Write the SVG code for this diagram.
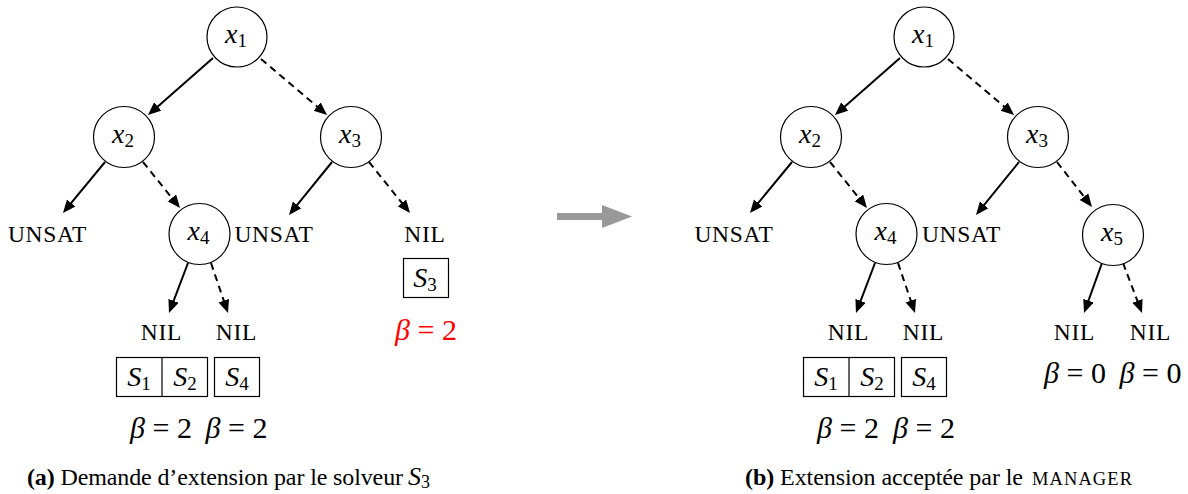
<svg xmlns="http://www.w3.org/2000/svg" width="1188" height="494" viewBox="0 0 1188 494">
<style>
text{font-family:"Liberation Serif","Times New Roman",serif;fill:#000}
.nd{fill:#fff;stroke:#000;stroke-width:1.2}
.lbl{font-size:28px;text-anchor:middle}
.mi{font-style:italic}
.sub{font-style:normal;font-size:19px}
.term{font-size:23.5px;text-anchor:middle;letter-spacing:0.7px}
.box{fill:#fff;stroke:#000;stroke-width:1.2}
.beta{font-size:30px}
.e{stroke:#000;stroke-width:2;fill:none;marker-end:url(#ah)}
.d{stroke-dasharray:7 5}
.cap{font-size:24px}
</style>
<defs>
<marker id="ah" markerUnits="userSpaceOnUse" markerWidth="14" markerHeight="12" refX="9" refY="5.5" orient="auto">
<path d="M0,0 L13,5.5 L0,11 z" fill="#000"/>
</marker>
</defs>
<g id="connectors">
<line class="e" x1="213" y1="58" x2="151" y2="112.4"/>
<line class="e d" x1="261" y1="59" x2="324" y2="112.4"/>
<line class="e" x1="105" y1="162" x2="65.5" y2="209.9"/>
<line class="e d" x1="143" y1="162" x2="177.5" y2="204.9"/>
<line class="e" x1="332" y1="162" x2="291.5" y2="211.9"/>
<line class="e d" x1="369" y1="162" x2="407.5" y2="209.9"/>
<line class="e" x1="188" y1="263" x2="170.4" y2="309.3"/>
<line class="e d" x1="211" y1="263" x2="226.7" y2="309.2"/>
<line class="e" x1="900" y1="58" x2="838" y2="112.4"/>
<line class="e d" x1="948" y1="59" x2="1011" y2="112.4"/>
<line class="e" x1="792" y1="162" x2="752.5" y2="209.9"/>
<line class="e d" x1="830" y1="162" x2="864.5" y2="204.9"/>
<line class="e" x1="1019" y1="162" x2="978.5" y2="211.9"/>
<line class="e d" x1="1057" y1="162" x2="1089.5" y2="203.8"/>
<line class="e" x1="875" y1="263" x2="857.4" y2="309.3"/>
<line class="e d" x1="898" y1="263" x2="913.7" y2="309.2"/>
<line class="e" x1="1102" y1="263" x2="1085.4" y2="309.2"/>
<line class="e d" x1="1123" y1="263" x2="1140.6" y2="309.3"/>
<polygon id="transition" points="557,213 602,213 602,205 632,216.5 602,228 602,220 557,220" fill="#999"/>
</g>
<g id="a-x1"><circle class="nd" cx="237" cy="37" r="30"/><text class="lbl" x="236" y="43"><tspan class="mi">x</tspan><tspan class="sub" dy="4">1</tspan></text></g>
<g id="a-x2"><circle class="nd" cx="124" cy="137" r="30.5"/><text class="lbl" x="123" y="143"><tspan class="mi">x</tspan><tspan class="sub" dy="4">2</tspan></text></g>
<g id="a-x3"><circle class="nd" cx="351" cy="137" r="30.5"/><text class="lbl" x="350" y="143"><tspan class="mi">x</tspan><tspan class="sub" dy="4">3</tspan></text></g>
<g id="a-x4"><circle class="nd" cx="199.5" cy="234" r="30.5"/><text class="lbl" x="198.5" y="240"><tspan class="mi">x</tspan><tspan class="sub" dy="4">4</tspan></text></g>
<g id="a-unsat1"><text class="term" x="47.5" y="242">UNSAT</text></g>
<g id="a-unsat2"><text class="term" x="274" y="242">UNSAT</text></g>
<g id="a-nil3"><text class="term" x="425" y="242">NIL</text>
<rect class="box" x="403.5" y="258.5" width="45" height="39"/>
<text class="lbl" x="425" y="287"><tspan class="mi">S</tspan><tspan class="sub" dy="4">3</tspan></text>
<text class="beta" x="426" y="340" text-anchor="middle" style="fill:#f00"><tspan class="mi">β</tspan> = 2</text></g>
<g id="a-nil1"><text class="term" x="161.5" y="340">NIL</text>
<rect class="box" x="116.5" y="357.5" width="91" height="39"/>
<line x1="162" y1="357.5" x2="162" y2="396.5" stroke="#000" stroke-width="1.2"/>
<text class="lbl" x="139" y="386"><tspan class="mi">S</tspan><tspan class="sub" dy="4">1</tspan></text>
<text class="lbl" x="185" y="386"><tspan class="mi">S</tspan><tspan class="sub" dy="4">2</tspan></text>
<text class="beta" x="161" y="438" text-anchor="middle"><tspan class="mi">β</tspan> = 2</text></g>
<g id="a-nil2"><text class="term" x="236.5" y="340">NIL</text>
<rect class="box" x="214.5" y="357.5" width="45" height="39"/>
<text class="lbl" x="237" y="386"><tspan class="mi">S</tspan><tspan class="sub" dy="4">4</tspan></text>
<text class="beta" x="236.5" y="438" text-anchor="middle"><tspan class="mi">β</tspan> = 2</text></g>
<g id="b-x1"><circle class="nd" cx="924" cy="37" r="30"/><text class="lbl" x="923" y="43"><tspan class="mi">x</tspan><tspan class="sub" dy="4">1</tspan></text></g>
<g id="b-x2"><circle class="nd" cx="811" cy="137" r="30.5"/><text class="lbl" x="810" y="143"><tspan class="mi">x</tspan><tspan class="sub" dy="4">2</tspan></text></g>
<g id="b-x3"><circle class="nd" cx="1038" cy="137" r="30.5"/><text class="lbl" x="1037" y="143"><tspan class="mi">x</tspan><tspan class="sub" dy="4">3</tspan></text></g>
<g id="b-x4"><circle class="nd" cx="886.5" cy="234" r="30.5"/><text class="lbl" x="885.5" y="240"><tspan class="mi">x</tspan><tspan class="sub" dy="4">4</tspan></text></g>
<g id="b-x5"><circle class="nd" cx="1113" cy="235" r="30.5"/><text class="lbl" x="1112" y="241"><tspan class="mi">x</tspan><tspan class="sub" dy="4">5</tspan></text></g>
<g id="b-unsat1"><text class="term" x="734" y="242">UNSAT</text></g>
<g id="b-unsat2"><text class="term" x="961.5" y="242">UNSAT</text></g>
<g id="b-nil1"><text class="term" x="848.5" y="340">NIL</text>
<rect class="box" x="803.5" y="357.5" width="91" height="39"/>
<line x1="849" y1="357.5" x2="849" y2="396.5" stroke="#000" stroke-width="1.2"/>
<text class="lbl" x="826" y="386"><tspan class="mi">S</tspan><tspan class="sub" dy="4">1</tspan></text>
<text class="lbl" x="872" y="386"><tspan class="mi">S</tspan><tspan class="sub" dy="4">2</tspan></text>
<text class="beta" x="848" y="438" text-anchor="middle"><tspan class="mi">β</tspan> = 2</text></g>
<g id="b-nil2"><text class="term" x="923.5" y="340">NIL</text>
<rect class="box" x="901.5" y="357.5" width="45" height="39"/>
<text class="lbl" x="924" y="386"><tspan class="mi">S</tspan><tspan class="sub" dy="4">4</tspan></text>
<text class="beta" x="924" y="438" text-anchor="middle"><tspan class="mi">β</tspan> = 2</text></g>
<g id="b-nil3"><text class="term" x="1074.5" y="340">NIL</text>
<text class="beta" x="1075" y="383" text-anchor="middle"><tspan class="mi">β</tspan> = 0</text></g>
<g id="b-nil4"><text class="term" x="1150.5" y="340">NIL</text>
<text class="beta" x="1150.5" y="383" text-anchor="middle"><tspan class="mi">β</tspan> = 0</text></g>
<g id="caption-a"><text class="cap" x="27" y="485" textLength="376" lengthAdjust="spacing"><tspan font-weight="bold">(a)</tspan> Demande d’extension par le solveur</text>
<text x="408" y="485" font-size="26"><tspan class="mi">S</tspan><tspan font-size="18" dy="3">3</tspan></text></g>
<g id="caption-b"><text class="cap" x="745" y="485" textLength="278" lengthAdjust="spacing"><tspan font-weight="bold">(b)</tspan> Extension acceptée par le</text>
<text x="1032" y="485" font-size="18.5" textLength="100" lengthAdjust="spacing">MANAGER</text></g>
</svg>
